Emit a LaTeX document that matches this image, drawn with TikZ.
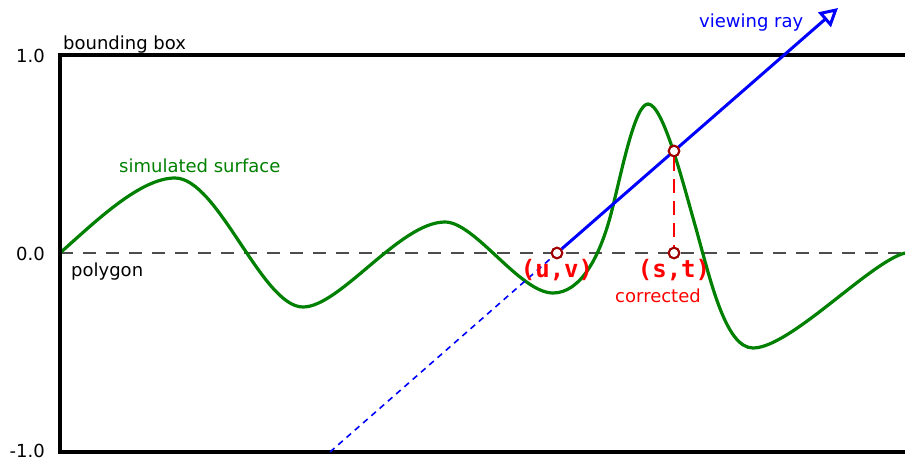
\documentclass[tikz,border=0pt]{standalone}
\usepackage{fontspec}
\setmainfont{DejaVu Sans}
\newfontfamily\monob{DejaVu Sans Mono}[BoldFont={DejaVu Sans Mono Bold}]
\usetikzlibrary{arrows.meta}
\definecolor{surfgreen}{HTML}{008000}
\definecolor{ptred}{HTML}{A00000}
\tikzset{
  lbl/.style={font=\fontsize{18}{20}\selectfont, inner sep=0pt},
  coordlbl/.style={font=\monob\bfseries\fontsize{24}{26}\selectfont, text=red, inner sep=0pt},
  ptmark/.style={circle, draw=ptred, fill=white, line width=2pt, minimum size=10.5pt, inner sep=0pt},
  boxline/.style={line width=3.2pt, black},
  polyline/.style={line width=1.5pt, black!70, dash pattern=on 13pt off 10pt},
  surf/.style={line width=3.2pt, surfgreen},
  ray/.style={line width=3pt, blue},
  raydash/.style={line width=1.6pt, blue, dash pattern=on 6pt off 5pt},
  proj/.style={line width=1.5pt, red, dash pattern=on 14pt off 8pt}
}
\begin{document}
\begin{tikzpicture}[x=1pt,y=-1pt]
\useasboundingbox (0,0) rectangle (905,460);
% coordinates
\coordinate (bl) at (60,452);
\coordinate (tl) at (60,55);
\coordinate (tr) at (905,55);
\coordinate (br) at (905,452);
\coordinate (p0) at (60,253);
\coordinate (p1) at (905,253);
\coordinate (raystart) at (330,452);
\coordinate (raytip) at (838,8);
% polygon line
\draw[polyline] (p0) -- (p1);
% surface
\draw[surf] (60,253) .. controls (95,222) and (140,178) .. (175,178)
  .. controls (218,178) and (262,307) .. (303,307)
  .. controls (340,307) and (400,222) .. (445,222)
  .. controls (475,222) and (520,293) .. (553,293)
  .. controls (580,293) and (600,258) .. (612,210)
  .. controls (622,170) and (635,104) .. (648,104)
  .. controls (663,104) and (683,183) .. (695,225)
  .. controls (710,278) and (725,348) .. (753,348)
  .. controls (790,348) and (870,262) .. (905,253);
% bounding box
\draw[boxline] (tr) -- (tl) -- (bl) -- (br);
% ray
\node[ptmark] (uv) at (557,253) {};
\node[ptmark] (hit) at (674,151) {};
\node[ptmark] (st) at (674,253) {};
\draw[raydash] (raystart) -- (uv.center);
\draw[ray, -{Triangle[open, length=18pt, width=19pt, line width=3pt]}] (uv) -- (raytip);
\draw[proj] (hit) -- (st);
\node[ptmark] at (hit) {};
\node[ptmark] at (uv) {};
\node[ptmark] at (st) {};
% labels
\node[lbl, anchor=base west] (bbl) at (63,49) {bounding box};
\node[lbl, anchor=base east] (y1) at (45,63) {1.0};
\node[lbl, anchor=base east] (y0) at (45,260) {0.0};
\node[lbl, anchor=base east] (ym1) at (45,457) {-1.0};
\node[lbl, anchor=base west] (polyl) at (71,276) {polygon};
\node[lbl, anchor=base west, text=surfgreen] (surfl) at (119,172) {simulated surface};
\node[lbl, anchor=base west, text=blue] (rayl) at (699,28) {viewing ray};
\node[coordlbl] (uvl) at (557,270) {(u,v)};
\node[coordlbl] (stl) at (674,270) {(s,t)};
\node[lbl, anchor=base, text=red] (corr) at (658,302) {corrected};
\end{tikzpicture}
\end{document}
